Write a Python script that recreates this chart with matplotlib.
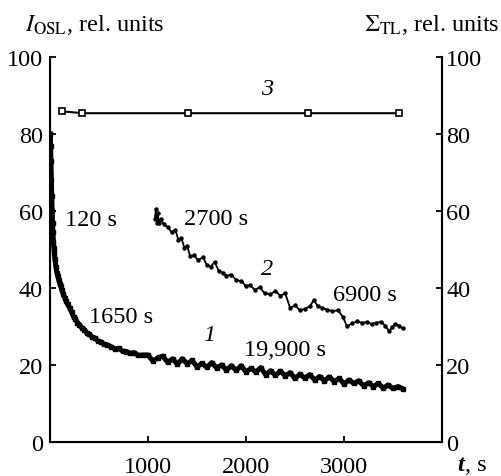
import matplotlib
matplotlib.use("Agg")
import matplotlib.pyplot as plt

plt.rcParams['font.family'] = 'Liberation Serif'
plt.rcParams['mathtext.fontset'] = 'stix'

# curve 1: OSL decay after 120 s of irradiation
t1 = [3, 6, 10, 14, 18, 22, 26, 30, 35, 40, 45, 50, 60, 70, 80, 90, 100, 110, 120,
      135, 150, 165, 180, 200, 220, 240, 260, 280, 300, 325, 350, 375, 400, 430,
      460, 490, 520, 550, 580, 620, 660, 700, 740, 780, 820, 860, 900, 950,
      1000, 1050, 1100, 1150, 1200, 1250, 1300, 1350, 1400, 1450, 1500, 1550,
      1600, 1650, 1700, 1750, 1800, 1850, 1900, 1950, 2000, 2050, 2100, 2150,
      2200, 2250, 2300, 2350, 2400, 2450, 2500, 2550, 2600, 2650, 2700, 2750,
      2800, 2850, 2900, 2950, 3000, 3050, 3100, 3150, 3200, 3250, 3300, 3350,
      3400, 3450, 3500, 3550, 3600]
v1 = [80, 77, 73, 68, 64, 60, 57, 54.5, 52, 50.5, 49, 47.5, 45.5, 44, 43, 42, 41,
      40.5, 39.5, 38.5, 37.5, 36.5, 35.8, 34.8, 33.8, 32.5, 32, 31, 30.5, 29.6,
      29.2, 28.3, 28, 27.2, 27, 26.2, 26, 25.4, 25.3, 24.8, 24.2, 24.3, 23.6,
      23.5, 23, 23.2, 22.5, 22.6,
      22.6, 21.0, 21.9, 22.3, 20.7, 21.6, 20.2, 21.6, 20.3, 21.2, 19.5, 20.4,
      19.4, 20.6, 19.3, 20.0, 18.7, 19.8, 18.6, 19.8, 18.2, 19.1, 18.2, 19.3,
      17.5, 18.5, 17.3, 18.4, 17.2, 18.0, 16.5, 17.6, 16.6, 17.5, 16.1, 17.0,
      15.9, 16.9, 15.7, 16.5, 15.1, 16.1, 15.2, 15.9, 14.6, 15.4, 14.4, 15.2,
      14.0, 14.8, 13.9, 14.4, 13.8]

# curve 2: OSL decay after 2700 s
t2 = [1070, 1080, 1090, 1100, 1110, 1130, 1160, 1200, 1240, 1280, 1310, 1340,
      1370, 1400, 1430, 1470, 1510, 1560, 1600, 1640, 1680, 1720, 1760, 1800,
      1850, 1900, 1950, 2000, 2040, 2090, 2140, 2190, 2245, 2300, 2350, 2400,
      2450, 2500, 2550, 2600, 2650, 2690, 2730, 2780, 2830, 2880, 2940, 2990,
      3030, 3080, 3130, 3180, 3230, 3280, 3330, 3380, 3420, 3460, 3490, 3520,
      3560, 3600]
v2 = [58, 60.5, 57, 59.5, 56.8, 58, 56.5, 55.8, 54.5, 55, 52.5, 53, 50.5, 51,
      48.2, 48.5, 47.2, 48, 46, 45.5, 46.8, 44.5, 44, 43.2, 43.5, 42, 41.8, 40.5,
      40.8, 39.5, 40.2, 38.6, 38.4, 39.2, 38.0, 38.6, 34.8, 35.5, 34.2, 34.6,
      35.2, 36.8, 35.4, 34.8, 34.4, 34.0, 34.2, 32.4, 30.0, 30.8, 31.3, 31.0,
      31.1, 30.7, 31.0, 31.2, 30.2, 28.8, 29.8, 30.7, 30.2, 29.5]

# curve 3: summed TL
t3 = [120, 330, 1410, 2630, 3560]
v3 = [85.9, 85.4, 85.4, 85.4, 85.4]

fig = plt.figure(figsize=(5.01, 4.77), dpi=100)
ax = fig.add_axes([0.0998, 0.0713, 0.7826, 0.8071])

ax.plot(t1, v1, color='black', lw=3.6, marker='s', ms=3.2)
ax.plot(t2, v2, color='black', lw=1.3, marker='o', ms=2.2)
ax.plot(t3, v3, color='black', lw=1.5, marker='s', ms=4,
        markerfacecolor='white', markeredgewidth=1.2)

fs = 17.5
ax.set_xlim(0, 4000)
ax.set_ylim(0, 100)
ax.set_xticks([1000, 2000, 3000])
ax.set_yticks([0, 20, 40, 60, 80, 100])
ax.spines['top'].set_visible(False)
for s in ['left', 'bottom', 'right']:
    ax.spines[s].set_linewidth(1.5)
ax.tick_params(axis='both', direction='in', length=4, width=1.3, labelsize=fs)
ax.tick_params(axis='x', pad=10)
ax.tick_params(axis='y', pad=5)

ax2 = ax.twinx()
ax2.set_ylim(0, 100)
ax2.set_yticks([0, 20, 40, 60, 80, 100])
ax2.spines['top'].set_visible(False)
ax2.spines['right'].set_linewidth(1.5)
ax2.tick_params(axis='y', direction='in', length=4, width=1.3, labelsize=fs, pad=3)

ax.text(150, 57.7, "120 s", fontsize=fs, va='center')
ax.text(400, 32.5, "1650 s", fontsize=fs, va='center')
ax.text(1370, 58, "2700 s", fontsize=fs, va='center')
ax.text(2890, 38.2, "6900 s", fontsize=fs, va='center')
ax.text(1980, 23.9, "19,900 s", fontsize=fs, va='center')
ax.text(1561, 27.8, "1", fontsize=fs, va='center', style='italic')
ax.text(2153, 45, "2", fontsize=fs, va='center', style='italic')
ax.text(2153, 91.7, "3", fontsize=fs, va='center', style='italic')

fig.text(25 / 501, 1 - 25 / 477, r"$I_{\mathrm{OSL}}$, rel. units", fontsize=fs, va='center')
fig.text(0.998, 1 - 25 / 477, r"$\Sigma_{\mathrm{TL}}$, rel. units", fontsize=fs,
         va='center', ha='right')
fig.text(457 / 501, 1 - 466 / 477, "t", fontsize=fs, va='center',
         style='italic', weight='bold')
fig.text(465 / 501, 1 - 466 / 477, ", s", fontsize=fs, va='center')

fig.savefig("out.png", dpi=100)
